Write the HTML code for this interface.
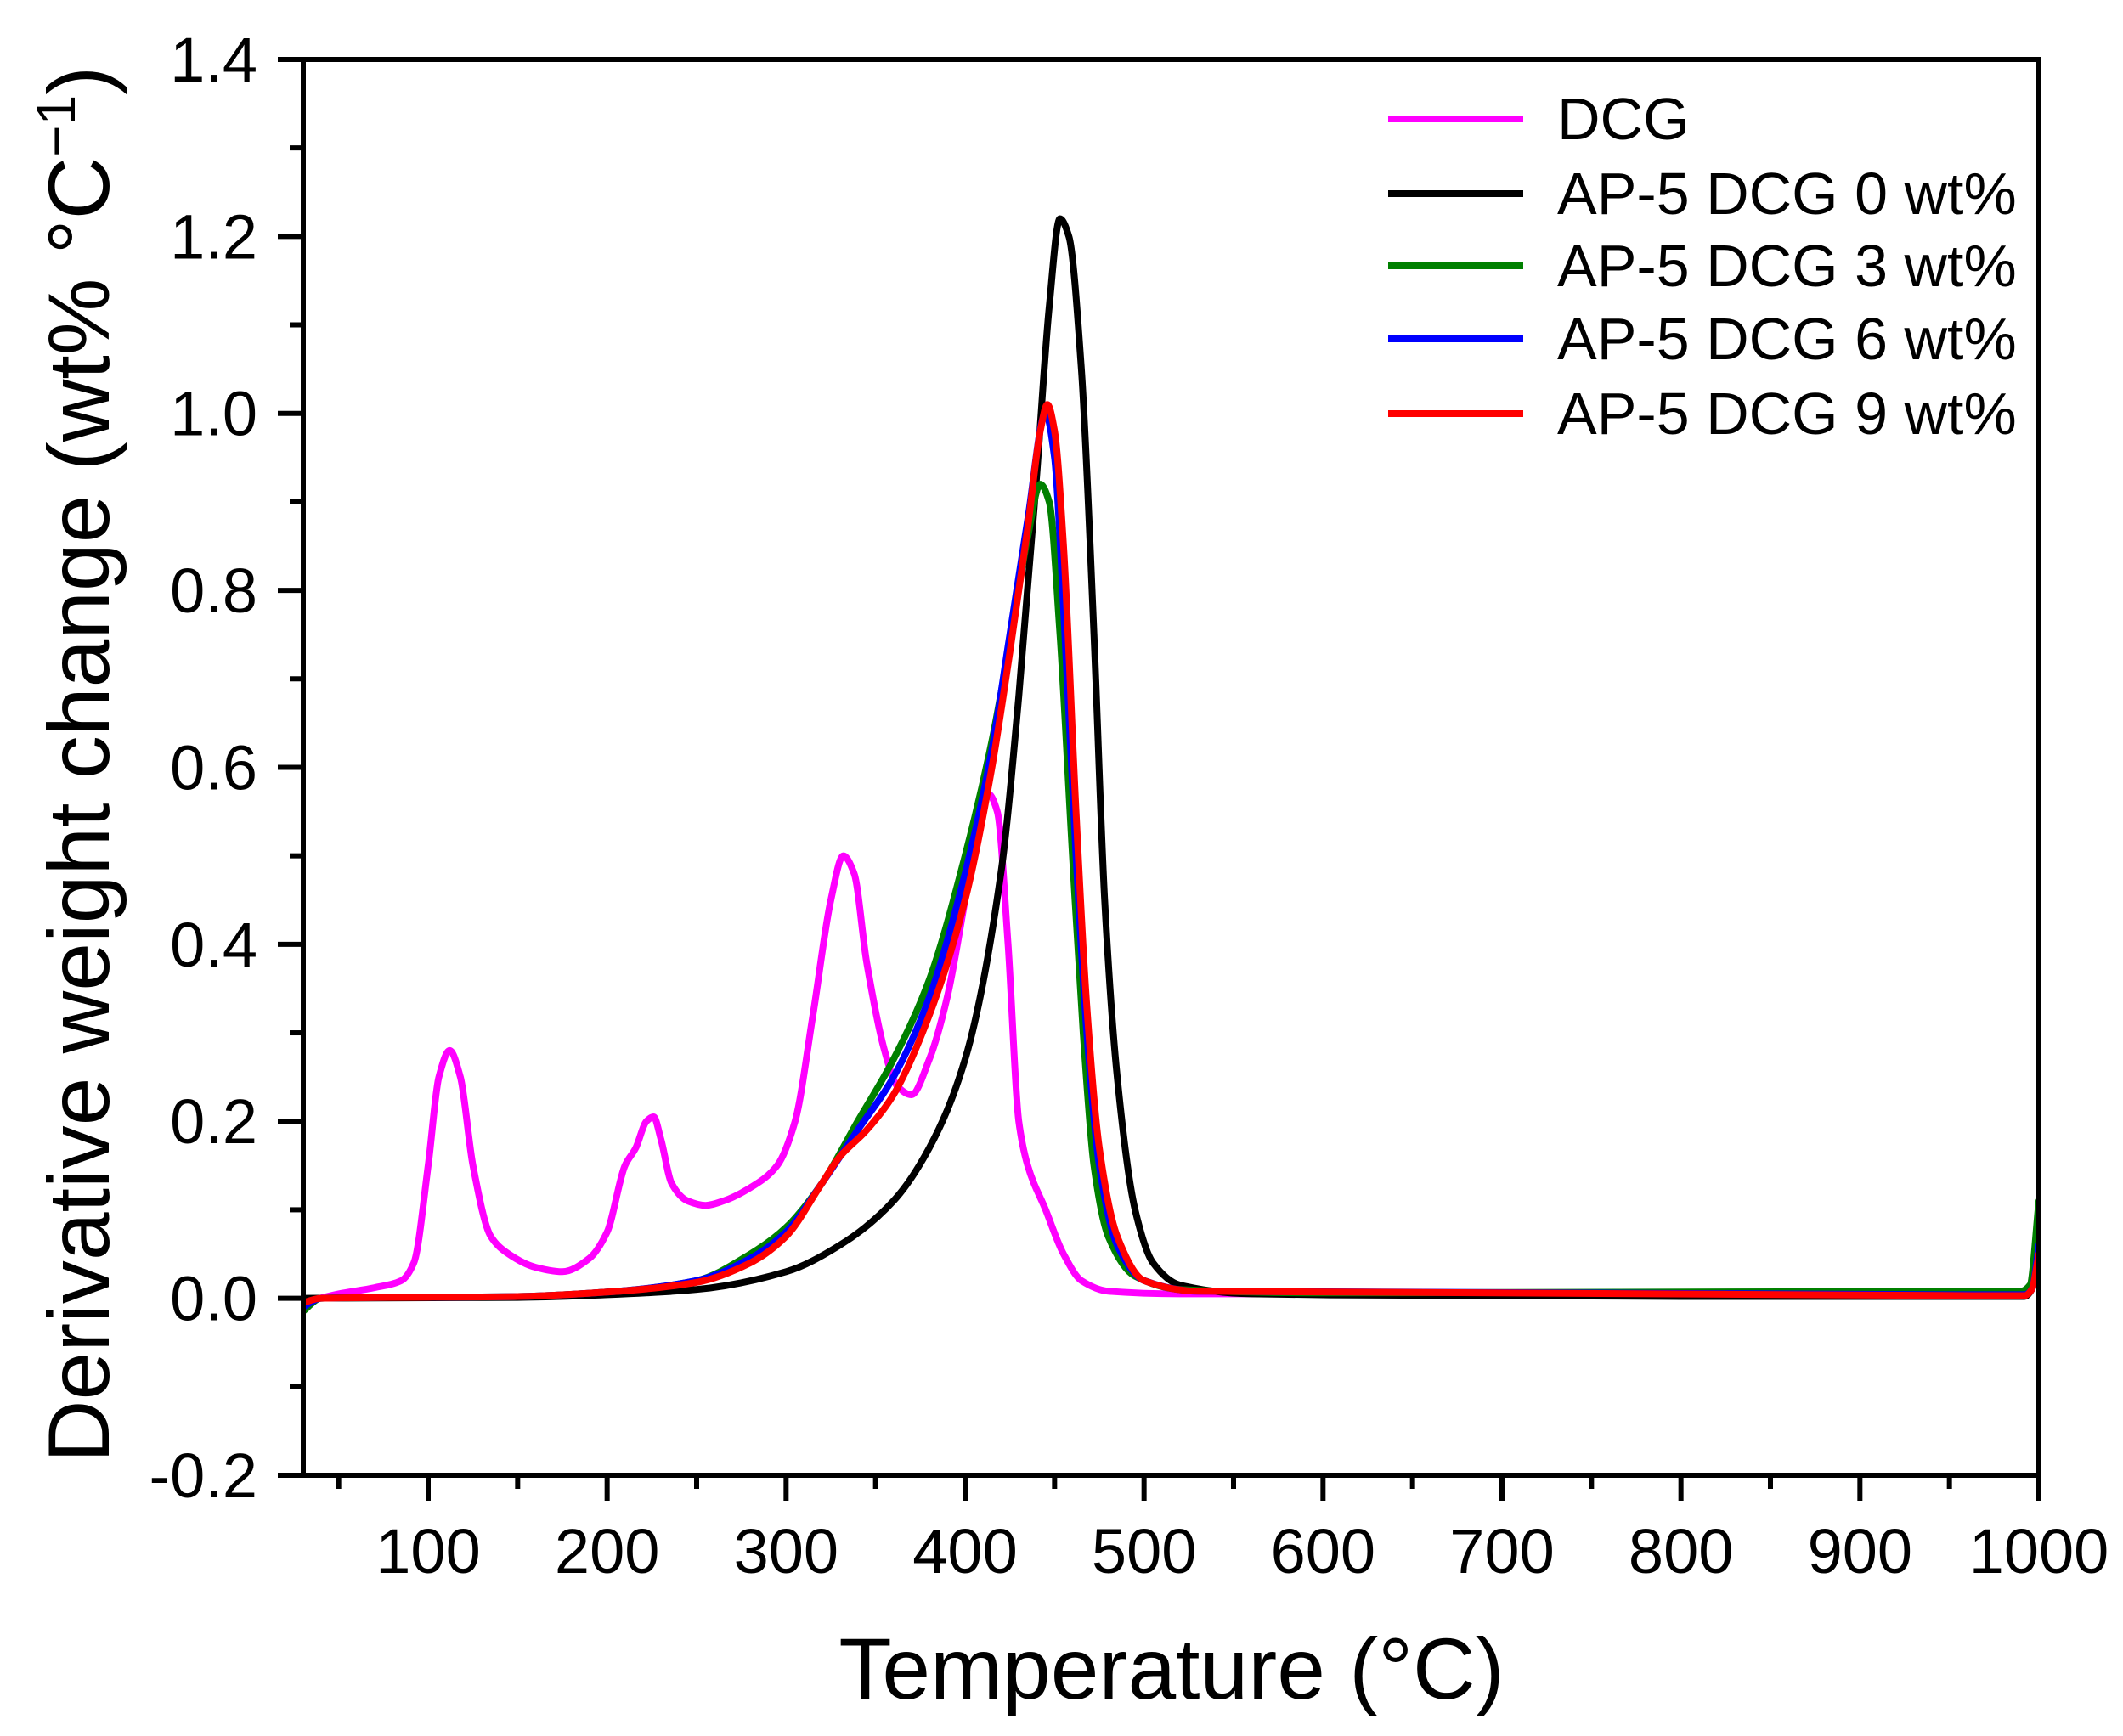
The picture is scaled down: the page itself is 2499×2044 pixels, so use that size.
<!DOCTYPE html>
<html><head><meta charset="utf-8"><style>
html,body{margin:0;padding:0;background:#fff;}
svg{display:block;font-family:"Liberation Sans",Arial,sans-serif;}
</style></head><body>
<svg id="s" width="2499" height="2044" viewBox="0 0 2499 2044" xmlns="http://www.w3.org/2000/svg">
<defs><clipPath id="cp"><rect x="357" y="70" width="2043" height="1667"/></clipPath></defs>
<rect width="2499" height="2044" fill="#fff"/>
<g id="curves" fill="none" stroke-width="8" stroke-linejoin="round" stroke-linecap="round" clip-path="url(#cp)"></g>
<g id="axes" stroke="#000" stroke-width="6" fill="none"></g>
<g id="labels" font-size="74" fill="#000"></g>
<text x="1379" y="2000" font-size="102" text-anchor="middle">Temperature (°C)</text>
<text transform="translate(128,900) rotate(-90)" font-size="102" text-anchor="middle">Derivative weight change (wt% °C<tspan dy="-40" font-size="64">−1</tspan><tspan dy="40">)</tspan></text>
<g font-size="70" stroke-width="8">
<line x1="1634" y1="140" x2="1793" y2="140" stroke="#ff00ff"/><text x="1833" y="164" stroke="none">DCG</text>
<line x1="1634" y1="228" x2="1793" y2="228" stroke="#000"/><text x="1833" y="252" stroke="none">AP-5 DCG 0 wt%</text>
<line x1="1634" y1="313" x2="1793" y2="313" stroke="#008000"/><text x="1833" y="337" stroke="none">AP-5 DCG 3 wt%</text>
<line x1="1634" y1="399" x2="1793" y2="399" stroke="#0000ff"/><text x="1833" y="423" stroke="none">AP-5 DCG 6 wt%</text>
<line x1="1634" y1="487" x2="1793" y2="487" stroke="#ff0000"/><text x="1833" y="511" stroke="none">AP-5 DCG 9 wt%</text>
</g>
</svg>
<script>
var L=357,R=2400,T=70,B=1737;
function X(t){return 504+(t-100)*(1896/900);}
function Y(v){return 1528.6-v*1041.9;}
var NS="http://www.w3.org/2000/svg";
function el(p,n,a){var e=document.createElementNS(NS,n);for(var k in a)e.setAttribute(k,a[k]);p.appendChild(e);return e;}
function path(pts){var n=pts.length,x=pts.map(p=>p[0]),y=pts.map(p=>p[1]),d=[],m=[];
for(var i=0;i<n-1;i++)d.push((y[i+1]-y[i])/(x[i+1]-x[i]));
m[0]=d[0];m[n-1]=d[n-2];
for(i=1;i<n-1;i++){if(d[i-1]*d[i]<=0)m[i]=0;else{var w1=2*(x[i+1]-x[i])+(x[i]-x[i-1]),w2=(x[i+1]-x[i])+2*(x[i]-x[i-1]);m[i]=(w1+w2)/(w1/d[i-1]+w2/d[i]);}}
var s="M"+X(x[0]).toFixed(1)+","+Y(y[0]).toFixed(1);
for(i=0;i<n-1;i++){var h=x[i+1]-x[i];
s+="C"+X(x[i]+h/3).toFixed(1)+","+Y(y[i]+m[i]*h/3).toFixed(1)+" "+X(x[i+1]-h/3).toFixed(1)+","+Y(y[i+1]-m[i+1]*h/3).toFixed(1)+" "+X(x[i+1]).toFixed(1)+","+Y(y[i+1]).toFixed(1);}
return s;}
var S={
"#ff00ff":[[30,-0.005],[50,0.005],[70,0.012],[85,0.02],[92,0.04],[100,0.15],[106,0.25],[112,0.28],[118,0.25],[125,0.15],[135,0.07],[145,0.05],[160,0.035],[175,0.03],[190,0.045],[200,0.075],[210,0.15],[216,0.17],[222,0.2],[226,0.205],[230,0.18],[236,0.13],[245,0.11],[255,0.105],[265,0.11],[280,0.125],[295,0.15],[305,0.2],[315,0.32],[325,0.45],[332,0.5],[338,0.48],[345,0.38],[355,0.28],[362,0.24],[370,0.23],[380,0.27],[390,0.34],[400,0.45],[408,0.54],[413,0.57],[418,0.55],[424,0.4],[430,0.2],[435,0.15],[445,0.1],[455,0.05],[465,0.02],[480,0.008],[520,0.005],[640,0.005],[700,0.003],[840,0.006],[990,0.002],[995,0.01],[1000,0.06]],
"#000000":[[30,0],[150,0.001],[200,0.004],[250,0.01],[300,0.03],[330,0.06],[360,0.11],[380,0.17],[400,0.27],[420,0.48],[430,0.68],[440,0.93],[447,1.12],[453,1.22],[458,1.2],[465,1.05],[472,0.75],[478,0.45],[485,0.25],[495,0.1],[505,0.04],[520,0.015],[560,0.005],[800,0.002],[992,0.002],[996,0.01],[1000,0.07]],
"#008000":[[30,-0.015],[40,0],[150,0.002],[200,0.007],[250,0.02],[280,0.05],[300,0.08],[320,0.13],[340,0.2],[360,0.27],[380,0.36],[400,0.5],[415,0.63],[425,0.74],[435,0.86],[442,0.92],[447,0.9],[453,0.75],[460,0.5],[466,0.3],[472,0.15],[480,0.07],[495,0.025],[520,0.01],[600,0.006],[990,0.008],[995,0.015],[1000,0.11]],
"#0000ff":[[30,-0.01],[40,0],[150,0.002],[200,0.007],[250,0.02],[280,0.045],[300,0.075],[320,0.13],[340,0.19],[360,0.25],[380,0.34],[400,0.48],[415,0.62],[425,0.75],[435,0.88],[445,1.0],[450,0.95],[455,0.78],[462,0.5],[468,0.3],[475,0.15],[485,0.06],[500,0.02],[530,0.008],[992,0.004],[996,0.01],[1000,0.06]],
"#ff0000":[[30,-0.005],[40,0],[150,0.002],[200,0.007],[250,0.018],[280,0.04],[300,0.07],[320,0.13],[330,0.16],[345,0.19],[360,0.23],[380,0.32],[400,0.45],[415,0.6],[425,0.73],[435,0.87],[442,0.98],[446,1.01],[450,0.98],[455,0.85],[462,0.55],[468,0.33],[475,0.17],[485,0.07],[500,0.02],[530,0.008],[992,0.003],[996,0.01],[1000,0.05]]};
var cg=document.getElementById("curves");
for(var c in S)el(cg,"path",{d:path(S[c]),stroke:c});
var ag=document.getElementById("axes"),lg=document.getElementById("labels");
el(ag,"rect",{x:L,y:T,width:R-L,height:B-T});
for(var t=50;t<=1000;t+=50){var x=X(t),maj=t%100==0;el(ag,"line",{x1:x,y1:B,x2:x,y2:B+(maj?30:16)});
if(maj){var tx=el(lg,"text",{x:x,y:1852,"text-anchor":"middle"});tx.textContent=t;}}
for(var i=-2;i<=14;i++){var v=i/10,y=Y(v),maj=i%2==0;el(ag,"line",{x1:L,y1:y,x2:L-(maj?30:16),y2:y});
if(maj){var ty=el(lg,"text",{x:303,y:y+26,"text-anchor":"end"});ty.textContent=v.toFixed(1);}}
</script>
</body></html>
